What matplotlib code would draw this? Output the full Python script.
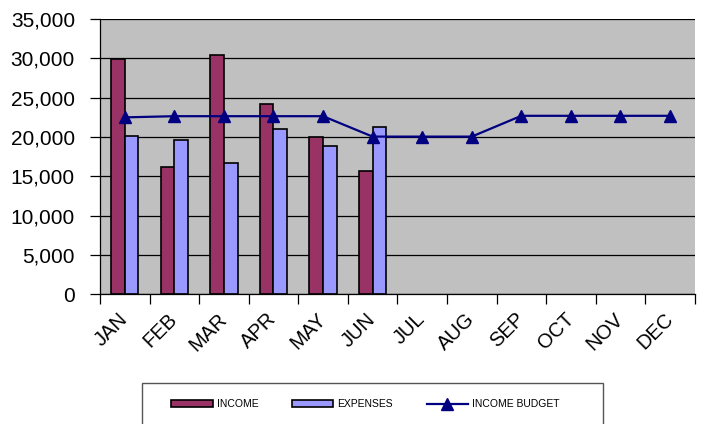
import numpy as np
import matplotlib.pyplot as plt
from matplotlib.patches import Rectangle
from matplotlib.ticker import FuncFormatter

plt.rcParams['font.family'] = ['Liberation Sans', 'DejaVu Sans']

months = ['JAN', 'FEB', 'MAR', 'APR', 'MAY', 'JUN',
          'JUL', 'AUG', 'SEP', 'OCT', 'NOV', 'DEC']
income = [29900, 16200, 30450, 24200, 19950, 15650]
expenses = [20100, 19650, 16650, 21050, 18900, 21300]
income_budget = [22500, 22650, 22650, 22650, 22650, 20050,
                 20050, 20050, 22700, 22700, 22700, 22700]

fig = plt.figure(figsize=(7.04, 4.24), dpi=100)
ax = fig.add_axes([0.142, 0.3066, 0.845, 0.648])
ax.set_facecolor('#C0C0C0')

x = np.arange(len(months))
w = 0.275
b1 = ax.bar(x[:len(income)] - w / 2, income, w, color='#993366',
            edgecolor='black', linewidth=1.2, label='INCOME', zorder=3)
b2 = ax.bar(x[:len(expenses)] + w / 2, expenses, w, color='#9999FF',
            edgecolor='black', linewidth=1.2, label='EXPENSES', zorder=3)
ln, = ax.plot(x, income_budget, color='#000080', linewidth=1.6, marker='^',
              markersize=8, label='INCOME BUDGET', zorder=4)

ax.set_xlim(-0.5, len(months) - 0.5)
ax.set_ylim(0, 35000)
ax.set_yticks(np.arange(0, 35001, 5000))
ax.yaxis.set_major_formatter(FuncFormatter(lambda v, p: f'{int(v):,}'))
ax.grid(axis='y', color='black', linewidth=0.9, zorder=1)
ax.set_axisbelow(True)

ax.set_xticks(x)
ax.set_xticklabels(months, rotation=45, ha='right', va='center',
                   rotation_mode='anchor', fontsize=14.5)
ax.set_xticks(np.arange(-0.5, len(months)), minor=True)
ax.tick_params(axis='x', which='major', length=0, pad=16)
ax.tick_params(axis='x', which='minor', length=7, width=0.9, direction='out')
ax.tick_params(axis='y', length=7, width=0.9, pad=11, labelsize=15)

for s in ['top', 'right']:
    ax.spines[s].set_visible(False)
for s in ['left', 'bottom']:
    ax.spines[s].set_linewidth(0.9)
ax.spines['bottom'].set_zorder(5)

# legend box (cut off by the bottom edge, as in the original)
fig.patches.append(Rectangle((142 / 704, -0.05), (603 - 142) / 704,
                             0.05 + 1 - 383 / 424, transform=fig.transFigure,
                             facecolor='white', edgecolor='#555555',
                             linewidth=1.0))
fig.legend(handles=[b1, b2, ln], loc='center left',
           bbox_to_anchor=(171 / 704, 1 - 404 / 424),
           ncol=3, frameon=False, fontsize=7.5, borderpad=0,
           handlelength=4.0, handleheight=0.6, columnspacing=3.2,
           handletextpad=0.4, borderaxespad=0)

fig.savefig('out.png', dpi=100)
